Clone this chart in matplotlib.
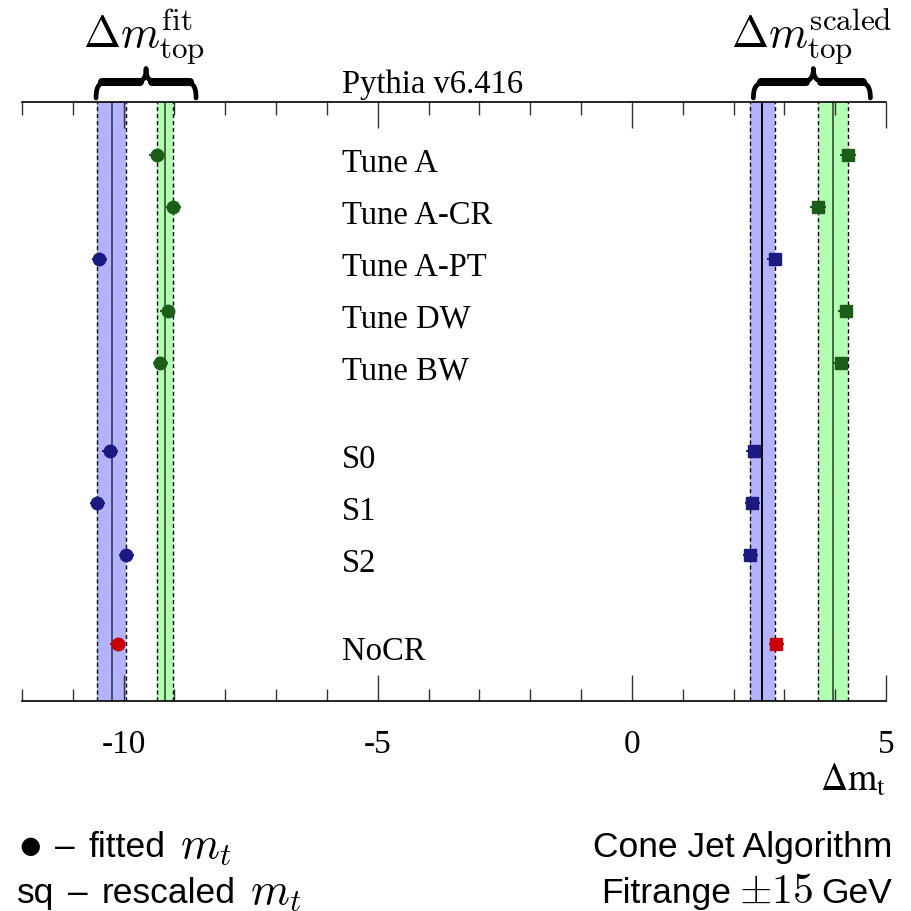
import numpy as np
import matplotlib
matplotlib.use("Agg")
import matplotlib.pyplot as plt
from matplotlib.path import Path
from matplotlib.patches import PathPatch
from matplotlib.transforms import blended_transform_factory
from matplotlib.ticker import MultipleLocator

# tunes / models, one row each
rows = ["Tune A", "Tune A-CR", "Tune A-PT", "Tune DW", "Tune BW",
        "S0", "S1", "S2", "NoCR"]
row_pos = [0, 1, 2, 3, 4, 5.7, 6.7, 7.7, 9.4]
group = ["g", "g", "b", "g", "g", "b", "b", "b", "r"]

# shift of the top mass (GeV): fitted (circles) and rescaled (squares)
fit_shift = [-9.35, -9.02, -10.48, -9.13, -9.28, -10.27, -10.52, -9.95, -10.12]
scaled_shift = [4.25, 3.66, 2.81, 4.21, 4.11, 2.40, 2.37, 2.33, 2.84]
shift_err = [0.15, 0.15, 0.15, 0.15, 0.15, 0.15, 0.15, 0.15, 0.15]

xticks_major = [-10, -5, 0, 5]
xtick_labels = ["-10", "-5", "0", "5"]

marker_col = {"b": "#1a1a80", "g": "#1a5e1a", "r": "#c80000"}
band_col = {"b": "#b3b3ff", "g": "#b3ffb3"}
center_col = {"b": "#4a4a70", "g": "#3e6a3e"}

W, H = 911, 912
fig = plt.figure(figsize=(W / 100, H / 100), dpi=100)
ax = fig.add_axes([22 / W, 210 / H, 864 / W, 599 / H])
ax.set_xlim(-12, 5)
ax.set_ylim(10.5, -1.02)

serif = "Liberation Serif"
sans = "Liberation Sans"


def draw_band(values, grp, right=False):
    vals = [v for v, g in zip(values, group) if g == grp]
    lo, hi = min(vals), max(vals)
    ax.axvspan(lo, hi, color=band_col[grp], zorder=1, lw=0)
    for x in (lo, hi):
        ax.axvline(x, color="k", lw=1.0, ls=(0, (3, 2)), zorder=2)
    c = "k" if (right and grp == "b") else center_col[grp]
    ax.axvline(0.5 * (lo + hi), color=c, lw=1.4, zorder=2)


for grp in ("b", "g"):
    draw_band(fit_shift, grp)
    draw_band(scaled_shift, grp, right=True)

for i in range(len(rows)):
    c = marker_col[group[i]]
    ax.errorbar(fit_shift[i], row_pos[i], xerr=shift_err[i], fmt="o", ms=9,
                color=c, mec=c, elinewidth=1.5, capsize=0, zorder=5)
    ax.errorbar(scaled_shift[i], row_pos[i], xerr=shift_err[i], fmt="s", ms=9,
                color=c, mec=c, elinewidth=1.5, capsize=0, zorder=5)
    ax.text(-5.70, row_pos[i] + 0.30, rows[i], family=serif, fontsize=23.5,
            va="baseline", ha="left", zorder=6)

ax.text(-5.70, -1.206, "Pythia v6.416", family=serif, fontsize=23.5,
        va="baseline", ha="left")

# axes: only top and bottom lines, ticks pointing inwards
for s in ("left", "right"):
    ax.spines[s].set_visible(False)
for s in ("top", "bottom"):
    ax.spines[s].set_linewidth(1.2)
ax.set_yticks([])
ax.xaxis.set_minor_locator(MultipleLocator(1))
ax.set_xticks(xticks_major)
ax.set_xticklabels(xtick_labels, family=serif, fontsize=24)
ax.tick_params(axis="x", which="both", direction="in", top=True, bottom=True,
               labeltop=False, pad=20, width=1.0, color="#333333")
ax.tick_params(axis="x", which="major", length=18.5)
ax.tick_params(axis="x", which="minor", length=9)

ax.text(1.0, -0.148, r"$\Delta\mathrm{m}_{\mathrm{t}}$", transform=ax.transAxes,
        ha="right", va="baseline", fontsize=27, math_fontfamily="stix")

# curly braces over the two groups of bands
trans = blended_transform_factory(ax.transData, ax.transAxes)


def brace(x0, xm, x1, ylow=1.0067, ymid=1.0334, ytip=1.056):
    q = 0.25 * (xm - x0)
    q2 = 0.25 * (x1 - xm)
    verts = [
        (x0, ylow),
        (x0, ylow + 0.8 * (ymid - ylow)), (x0 + 0.3 * q, ymid), (x0 + q, ymid),
        (xm - q, ymid),
        (xm - 0.3 * q, ymid), (xm, ymid + 0.2 * (ytip - ymid)), (xm, ytip),
        (xm, ymid + 0.2 * (ytip - ymid)), (xm + 0.3 * q2, ymid), (xm + q2, ymid),
        (x1 - q2, ymid),
        (x1 - 0.3 * q2, ymid), (x1, ylow + 0.8 * (ymid - ylow)), (x1, ylow),
    ]
    codes = [Path.MOVETO, Path.CURVE4, Path.CURVE4, Path.CURVE4, Path.LINETO,
             Path.CURVE4, Path.CURVE4, Path.CURVE4,
             Path.CURVE4, Path.CURVE4, Path.CURVE4, Path.LINETO,
             Path.CURVE4, Path.CURVE4, Path.CURVE4]
    p = PathPatch(Path(verts, codes), transform=trans, fill=False, lw=3.4,
                  capstyle="round", joinstyle="round", clip_on=False)
    ax.add_patch(p)
    # thicker middle parts of the arms
    for a, b in ((x0 + 0.5 * q, xm - 0.5 * q), (xm + 0.5 * q2, x1 - 0.5 * q2)):
        ax.plot([a, b], [ymid, ymid], transform=trans, color="k", lw=5.8,
                solid_capstyle="round", clip_on=False)


brace(-10.543, -9.559, -8.575)
brace(2.390, 3.571, 4.693)

ax.text(-9.60, 1.0918, r"$\Delta m^{\rm fit}_{\rm top}$", transform=trans,
        ha="center", va="baseline", fontsize=32, math_fontfamily="cm")
ax.text(3.53, 1.0918, r"$\Delta m^{\rm scaled}_{\rm top}$", transform=trans,
        ha="center", va="baseline", fontsize=32, math_fontfamily="cm")

# notes below the plot, each line laid out piece by piece
renderer = fig.canvas.get_renderer()


def note_line(px, py, pieces, gap=14, align="left"):
    made = []
    for s, size, math in pieces:
        kw = dict(math_fontfamily="cm") if math else dict(family=sans)
        t = fig.text(0, 1 - py / H, s, fontsize=size, ha="left",
                     va="baseline", **kw)
        made.append((t, t.get_window_extent(renderer).width))
    total = sum(w for _, w in made) + gap * (len(made) - 1)
    x = px if align == "left" else px - total
    for t, w in made:
        t.set_x(x / W)
        x += w + gap


y1, y2 = 857, 903
note_line(18, y1, [(r"$\bullet$", 34, True), ("–", 25.5, False),
                   ("fitted", 25.5, False), (r"$m_t$", 32, True)])
note_line(17, y2, [("sq", 25.5, False), ("–", 25.5, False),
                   ("rescaled", 25.5, False), (r"$m_t$", 32, True)])
note_line(892, y1, [("Cone Jet Algorithm", 25.5, False)], align="right")
note_line(892, y2, [("Fitrange", 25.5, False), (r"$\pm15$", 30, True),
                    ("GeV", 25.5, False)], gap=8, align="right")

fig.savefig("out.png", dpi=100)
